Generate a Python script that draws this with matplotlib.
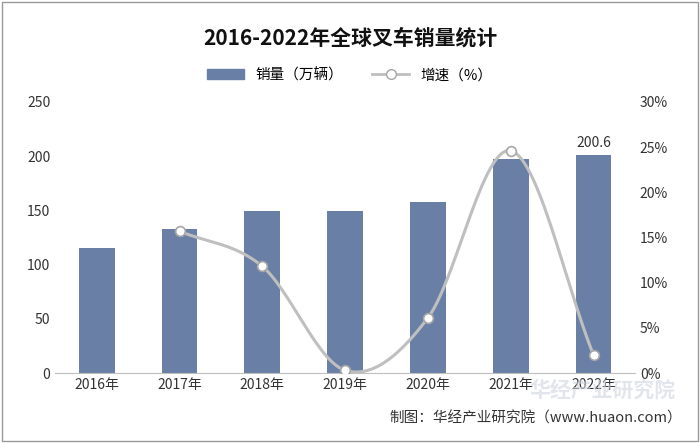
import numpy as np
import matplotlib.pyplot as plt
from matplotlib.patches import Rectangle, Patch
from matplotlib.lines import Line2D

plt.rcParams['font.family'] = ['Noto Sans CJK SC', 'DejaVu Sans']

years = ['2016年', '2017年', '2018年', '2019年', '2020年', '2021年', '2022年']
sales = [115, 133, 149, 149, 158, 197, 200.6]
growth = [None, 15.7, 11.8, 0.3, 6.1, 24.6, 2.0]

fig = plt.figure(figsize=(7, 4.43), dpi=100)
ax = fig.add_axes([0.079, 0.158, 0.828, 0.612])
x = np.arange(len(years))
ax.bar(x, sales, width=0.43, color='#6a7fa6', label='销量（万辆）', zorder=2)
ax.set_ylim(0, 250)
ax.set_yticks(range(0, 251, 50))
ax.set_xlim(-0.5, 6.5)
ax.set_xticks(x)
ax.set_xticklabels(years)
ax.annotate(f'{sales[-1]}', (x[-1], sales[-1]), xytext=(0, 4), textcoords='offset points',
            ha='center', va='bottom', fontsize=10, color='#333333')
for s in ['top', 'right', 'left']:
    ax.spines[s].set_visible(False)
ax.spines['bottom'].set_color('#bfbfbf')
ax.tick_params(length=0, labelsize=10, colors='#333333')

ax2 = ax.twinx()
gx = np.array([i for i, g in enumerate(growth) if g is not None], dtype=float)
gy = np.array([g for g in growth if g is not None])
# Catmull-Rom smoothing, only for drawing the curve
pts = np.column_stack([gx, gy])
ext = np.vstack([2 * pts[0] - pts[1], pts, 2 * pts[-1] - pts[-2]])
cx, cy = [], []
t = np.linspace(0, 1, 30)
for i in range(1, len(ext) - 2):
    p0, p1, p2, p3 = ext[i - 1], ext[i], ext[i + 1], ext[i + 2]
    for tt in t:
        c = 0.5 * ((2 * p1) + (-p0 + p2) * tt + (2 * p0 - 5 * p1 + 4 * p2 - p3) * tt ** 2
                   + (-p0 + 3 * p1 - 3 * p2 + p3) * tt ** 3)
        cx.append(c[0]); cy.append(c[1])
ax2.plot(cx, cy, color='#bfbfbf', lw=2.2, zorder=3)
ax2.plot(gx, gy, 'o', ms=7, mfc='white', mec='#a6a6a6', mew=1.2, zorder=4)
ax2.set_ylim(0, 30)
ax2.set_yticks(range(0, 31, 5))
ax2.set_yticklabels([f'{v}%' for v in range(0, 31, 5)])
for s in ['top', 'right', 'left', 'bottom']:
    ax2.spines[s].set_visible(False)
ax2.tick_params(length=0, labelsize=10, colors='#333333')

h = [Patch(color='#6a7fa6'),
     Line2D([], [], color='#bfbfbf', lw=2, marker='o', mfc='white', mec='#a6a6a6', ms=7)]
fig.legend(h, ['销量（万辆）', '增速（%）'], loc='center', bbox_to_anchor=(0.5, 0.83), ncol=2,
           frameon=False, fontsize=10.5, handlelength=2.5, columnspacing=2)
fig.text(0.5, 0.915, '2016-2022年全球叉车销量统计', ha='center', va='center',
         fontsize=15, fontweight='bold', color='#111111')
fig.text(0.975, 0.055, '制图：华经产业研究院（www.huaon.com）', ha='right', va='center',
         fontsize=10.5, color='#333333')
fig.text(0.965, 0.12, '华经产业研究院', ha='right', va='center', fontsize=15,
         color='#cfd6e0', alpha=0.6, fontweight='bold', zorder=0)
fig.patches.append(Rectangle((0.003, 0.004), 0.994, 0.992, transform=fig.transFigure,
                             fill=False, ec='#999999', lw=1))
fig.savefig('out.png', dpi=100)
